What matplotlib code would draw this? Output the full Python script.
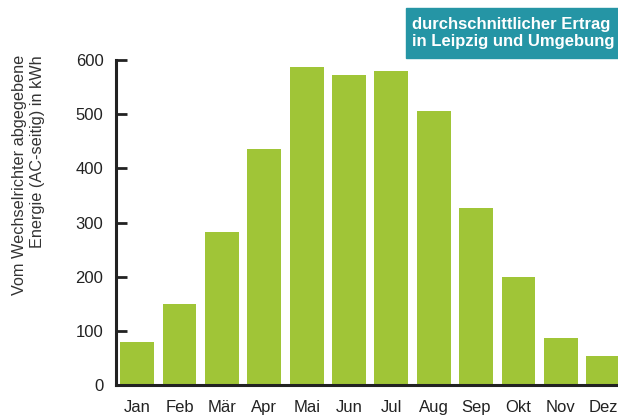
import numpy as np
import matplotlib.pyplot as plt

plt.rcParams['font.family'] = ['Liberation Sans', 'DejaVu Sans']

# Monatswerte
monate = ['Jan', 'Feb', 'Mär', 'Apr', 'Mai', 'Jun', 'Jul', 'Aug', 'Sep', 'Okt', 'Nov', 'Dez']
ertrag = [79, 150, 282, 436, 587, 572, 580, 506, 327, 199, 87, 54]
y_ticks = [0, 100, 200, 300, 400, 500, 600]

fig = plt.figure(figsize=(6.18, 4.15), dpi=100)
ax = fig.add_axes([0.1877, 0.0723, 0.8123, 0.7831])

x = np.arange(len(monate))
ax.bar(x, ertrag, width=0.8, color='#a0c537')

ax.set_xlim(-0.5, 11.35)
ax.set_ylim(0, 600)
ax.set_yticks(y_ticks)
ax.set_xticks(x)
ax.set_xticklabels(monate, fontsize=12, color='#222222')
ax.tick_params(axis='x', length=0, pad=11)
ax.tick_params(axis='y', direction='in', length=8, width=2, color='#222222',
               labelsize=12, labelcolor='#222222', pad=9)

for s in ['top', 'right']:
    ax.spines[s].set_visible(False)
for s in ['left', 'bottom']:
    ax.spines[s].set_linewidth(2.2)
    ax.spines[s].set_color('#222222')
    ax.spines[s].set_clip_on(False)

fig.text(0.046, 0.578, 'Vom Wechselrichter abgegebene\nEnergie (AC-seitig) in kWh',
         rotation=90, ha='center', va='center', fontsize=11.7, color='#333333',
         multialignment='right', linespacing=1.25)

# Hinweisbox oben rechts
fig.patches.append(plt.Rectangle((406 / 618, 1 - 58 / 415), 212 / 618, 50 / 415,
                                 transform=fig.transFigure, color='#2595a5', zorder=0))
fig.text(412 / 618, 1 - 33 / 415, 'durchschnittlicher Ertrag\nin Leipzig und Umgebung',
         ha='left', va='center', fontsize=12, fontweight='bold', color='white',
         linespacing=1.2)

plt.savefig('out.png', dpi=100)
